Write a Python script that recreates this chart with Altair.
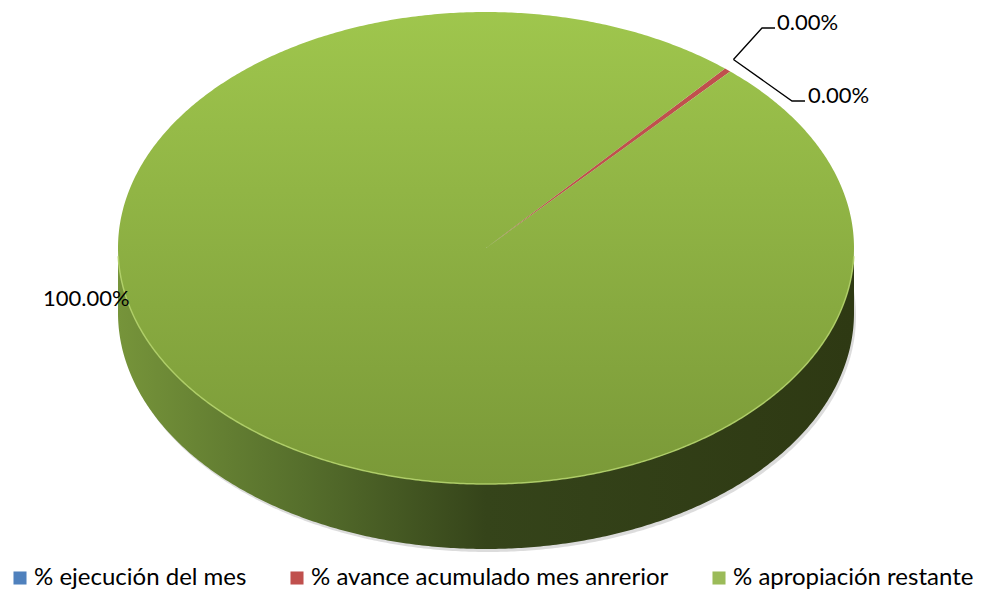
import math
import altair as alt
import pandas as pd

# ---- data ----
categories = ["% ejecución del mes", "% avance acumulado mes anrerior", "% apropiación restante"]
shares = [0.0, 0.3, 99.7]            # drawn share of the pie (percent)
label_texts = ["0.00%", "0.00%", "100.00%"]
colors = ["#4F81BD", "#C0504D", "#9BBB59"]

# ---- layout / style constants (page pixels) ----
CX, CY, RX, RY, DEPTH = 486, 248, 368, 236, 65
START = 40.5                           # first slice angle, clockwise from top
label_pos = [(777, 23), (808, 96), (43, 299)]
elbows = [[(762, 28), (775, 28)], [(792, 101), (805, 101)], None]
GREEN = categories[2]


def rim(theta, dy=0.0):
    t = math.radians(theta)
    return [CX + RX * math.sin(t), CY - RY * math.cos(t) + dy]


def arc_pts(a, b, dy=0.0):
    n = max(2, int(abs(b - a) / 0.5) + 1)
    return [rim(a + (b - a) * i / (n - 1), dy) for i in range(n)]


total = sum(shares)
bounds = []
acc = START
for s in shares:
    a = acc
    acc += 360.0 * s / total
    bounds.append((a, acc))

top_feats, side_feats = [], []
for cat, (a, b) in zip(categories, bounds):
    if b - a <= 0:
        continue
    ring = [[CX, CY]] + arc_pts(a, b) + [[CX, CY]]
    top_feats.append({"type": "Feature", "properties": {"cat": cat},
                      "geometry": {"type": "Polygon", "coordinates": [ring]}})
    for w0, w1 in [(90, 270), (450, 630)]:
        lo, hi = max(a, w0), min(b, w1)
        if lo < hi:
            up = arc_pts(lo, hi)
            down = arc_pts(hi, lo, DEPTH)
            ring = up + down + [up[0]]
            side_feats.append({"type": "Feature", "properties": {"cat": cat},
                               "geometry": {"type": "Polygon", "coordinates": [ring]}})

shadow_ring = arc_pts(0, 360, DEPTH + 3)
shadow_ring = [[x + 2, y] for x, y in shadow_ring]
shadow_feats = [{"type": "Feature", "properties": {"cat": "shadow"},
                 "geometry": {"type": "Polygon", "coordinates": [shadow_ring]}}]

rim_df = pd.DataFrame([{"x": p[0], "y": p[1], "seq": i} for i, p in enumerate(arc_pts(92, 268))])

# leader lines and labels
lead_rows, text_rows = [], []
for i, (cat, (a, b)) in enumerate(zip(categories, bounds)):
    text_rows.append({"x": label_pos[i][0], "y": label_pos[i][1], "text": label_texts[i]})
    if elbows[i] is None:
        continue
    mid = bounds[1][0] + (bounds[1][1] - bounds[1][0]) / 2
    t = math.radians(mid)
    nx, ny = math.sin(t) / RX, -math.cos(t) / RY
    nn = math.hypot(nx, ny)
    ox, oy = rim(mid)
    origin = (ox + 12 * nx / nn, oy + 12 * ny / nn)
    pts = [origin] + elbows[i]
    for j, p in enumerate(pts):
        lead_rows.append({"id": i, "seq": j, "x": p[0], "y": p[1]})
lead_df = pd.DataFrame(lead_rows)
text_df = pd.DataFrame(text_rows)

proj = alt.Projection(type="identity", scale=1, translate=[-8, -8]).to_dict()

top_grad = {"gradient": "linear", "x1": 0, "y1": 0, "x2": 0, "y2": 1,
            "stops": [{"offset": 0, "color": "#9FC64D"},
                      {"offset": 1, "color": "#7A9938"}]}
side_grad = {"gradient": "linear", "x1": 0, "y1": 0, "x2": 1, "y2": 0,
             "stops": [{"offset": 0, "color": "#76943A"},
                       {"offset": 0.25, "color": "#566F2C"},
                       {"offset": 0.5, "color": "#35441A"},
                       {"offset": 1, "color": "#2E3913"}]}

fill_scale = alt.Scale(domain=categories, range=colors)
is_green = f"datum.properties.cat === '{GREEN}'"
legend = alt.Legend(orient="none", legendX=0, legendY=558,
                    direction="horizontal", title=None,
                    symbolType="square", symbolSize=170,
                    symbolStrokeWidth=0, symbolOpacity=1,
                    labelFont="Lato", labelFontSize=24,
                    labelColor="#000000", labelOffset=2,
                    columnPadding=38, labelLimit=500)

shadow = alt.Chart(alt.Data(values=shadow_feats)).mark_geoshape(
    fill="#9a9a9a", opacity=0.35, strokeWidth=0
).project(**proj)

side = alt.Chart(alt.Data(values=side_feats)).mark_geoshape(strokeWidth=0).encode(
    fill=alt.condition(is_green, alt.value(side_grad),
                       alt.Fill("properties.cat:N", scale=fill_scale, legend=legend))
).project(**proj)

top = alt.Chart(alt.Data(values=top_feats)).mark_geoshape(strokeWidth=0).encode(
    fill=alt.condition(is_green, alt.value(top_grad),
                       alt.Fill("properties.cat:N", scale=fill_scale, legend=legend))
).project(**proj)

rim_line = alt.Chart(rim_df).mark_line(color="#B3D26A", strokeWidth=1.5, opacity=0.9).encode(
    longitude="x:Q", latitude="y:Q", order="seq:Q"
).project(**proj)

leaders = alt.Chart(lead_df).mark_line(color="#000000", strokeWidth=1.3).encode(
    longitude="x:Q", latitude="y:Q", order="seq:Q", detail="id:N"
).project(**proj)

labels = alt.Chart(text_df).mark_text(
    align="left", baseline="middle", font="Lato", fontSize=22, color="#000000"
).encode(longitude="x:Q", latitude="y:Q", text="text:N").project(**proj)

chart = alt.layer(shadow, side, top, rim_line, leaders, labels).properties(
    width=973, height=583, autosize="none", padding=0
).configure_view(stroke=None)

chart.save("out.html", embed_options={"renderer": "svg", "actions": False})
